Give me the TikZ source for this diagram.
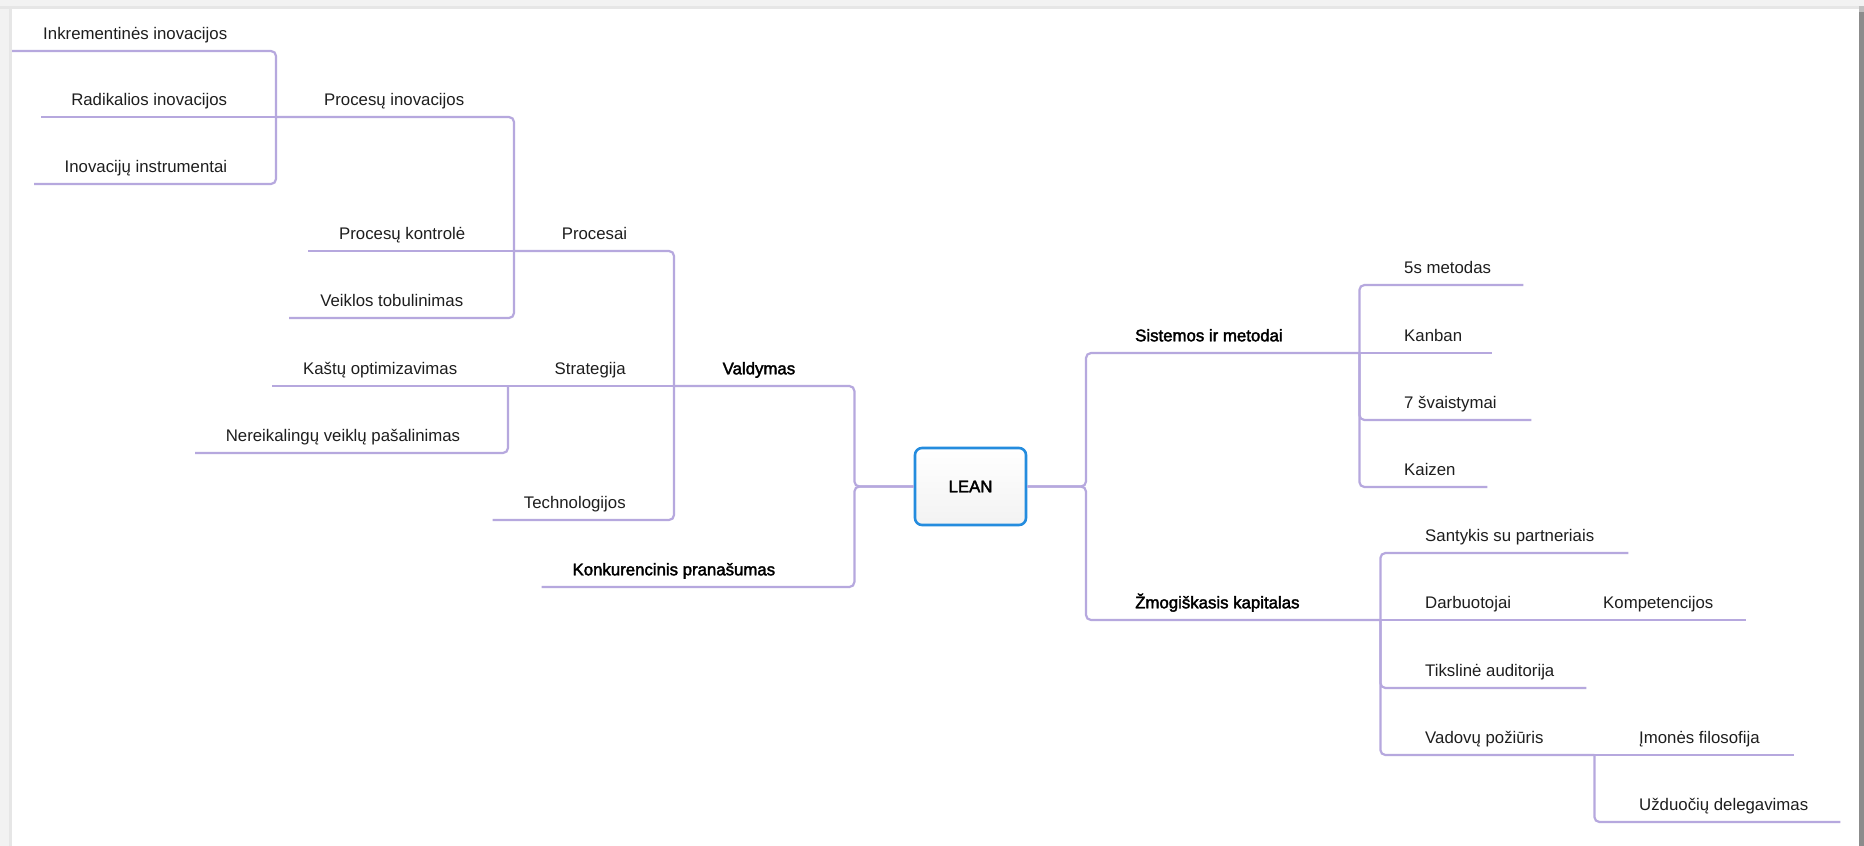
\documentclass[tikz,border=0pt]{standalone}
\usepackage{fontspec}
\setmainfont{Liberation Sans}
\newfontfamily\heavyfont[FakeBold=2.2]{Liberation Sans}
\usetikzlibrary{shadings}

\definecolor{branchcol}{RGB}{182,168,222}
\definecolor{inkcol}{RGB}{30,30,30}
\definecolor{leanblue}{RGB}{36,140,222}
\definecolor{pagegray}{RGB}{242,242,242}
\definecolor{edgegray}{RGB}{230,230,230}

% text inside an underlined segment of given width: gap to the hub side
\newcommand\segleft[3]{\makebox[#1pt][r]{#3\kern#2pt}}
\newcommand\segright[3]{\makebox[#1pt][l]{\kern#2pt#3}}

\tikzset{
  topic/.style={anchor=south west, inner sep=0pt, text height=13pt,
    text depth=11.5pt, text=inkcol, font=\fontsize{16.8pt}{20pt}\selectfont},
  maintopic/.style={topic, text=black, font=\fontsize{16.8pt}{20pt}\heavyfont},
  branch/.style={draw=branchcol, line width=2.2pt, rounded corners=5pt},
  rootbox/.style={draw=leanblue, line width=2.6pt, rounded corners=7pt,
    top color=white, bottom color=black!5, minimum width=111pt,
    minimum height=77pt, inner sep=0pt, text=black,
    font=\fontsize{16.8pt}{20pt}\heavyfont},
}

\begin{document}
\begin{tikzpicture}[x=1pt,y=-1pt]
\useasboundingbox (0,0) rectangle (1864,846);

% page and frame
\fill[pagegray] (0,0) rectangle (1864,846);
\fill[edgegray] (0,6) rectangle (1864,9);
\fill[edgegray] (9,6) rectangle (12,846);
\fill[black!45] (1859,12) rectangle (1864,846);
\fill[black!25] (1859,6) rectangle (1864,12);
\fill[white] (12,9) rectangle (1859,846);

% central topic
\node[rootbox] (lean) at (970.5,486.5) {\raisebox{-2pt}{LEAN}};

% left side
\node[maintopic] (vald) at (674,386) {\segleft{180}{59}{Valdymas}};
\node[maintopic] (konk) at (541.6,587) {\segleft{312.4}{79}{Konkurencinis pranašumas}};

\node[topic] (procesai) at (514,251) {\segleft{160}{47}{Procesai}};
\node[topic] (strat) at (508,386) {\segleft{166}{48.5}{Strategija}};
\node[topic] (techn) at (492.5,520) {\segleft{181.5}{48.5}{Technologijos}};

\node[topic] (procinov) at (276,117) {\segleft{238}{50}{Procesų inovacijos}};
\node[topic] (prockontr) at (308,251) {\segleft{206}{49}{Procesų kontrolė}};
\node[topic] (veikl) at (289,318) {\segleft{225}{51}{Veiklos tobulinimas}};

\node[topic] (inkr) at (12,51) {\segleft{264}{49}{Inkrementinės inovacijos}};
\node[topic] (radik) at (41,117) {\segleft{235}{49}{Radikalios inovacijos}};
\node[topic] (instr) at (34,184) {\segleft{242}{49}{Inovacijų instrumentai}};

\node[topic] (kastu) at (272,386) {\segleft{236}{51}{Kaštų optimizavimas}};
\node[topic] (nereik) at (195,453) {\segleft{313}{48}{Nereikalingų veiklų pašalinimas}};

% right side
\node[maintopic] (sist) at (1086,353) {\segright{273}{49}{Sistemos ir metodai}};
\node[maintopic] (zmog) at (1086,620) {\segright{294}{49}{Žmogiškasis kapitalas}};

\node[topic] (s5) at (1359,285) {\segright{164}{45}{5s metodas}};
\node[topic] (kanban) at (1359,353) {\segright{133}{45}{Kanban}};
\node[topic] (sva) at (1359,420) {\segright{172}{45}{7 švaistymai}};
\node[topic] (kaizen) at (1359,487) {\segright{128}{45}{Kaizen}};

\node[topic] (sant) at (1380,553) {\segright{248}{45}{Santykis su partneriais}};
\node[topic] (darb) at (1380,620) {\segright{176}{45}{Darbuotojai}};
\node[topic] (tiksl) at (1380,688) {\segright{206}{45}{Tikslinė auditorija}};
\node[topic] (vad) at (1380,755) {\segright{214}{45}{Vadovų požiūris}};

\node[topic] (komp) at (1556,620) {\segright{190}{47}{Kompetencijos}};
\node[topic] (imon) at (1594,755) {\segright{199.5}{45}{Įmonės filosofija}};
\node[topic] (uzd) at (1594,822) {\segright{246}{45}{Užduočių delegavimas}};

% connectors, left side
\draw[branch] (lean.west) -- (lean.west -| vald.south east) |- (vald.south west);
\draw[branch] (lean.west) -- (lean.west -| konk.south east) |- (konk.south west);

\draw[branch] (vald.south west) |- (procesai.south west);
\draw[branch] (vald.south west) -- (strat.south west);
\draw[branch] (vald.south west) |- (techn.south west);

\draw[branch] (procesai.south west) |- (procinov.south west);
\draw[branch] (procesai.south west) -- (prockontr.south west);
\draw[branch] (procesai.south west) |- (veikl.south west);

\draw[branch] (procinov.south west) |- (inkr.south west);
\draw[branch] (procinov.south west) -- (radik.south west);
\draw[branch] (procinov.south west) |- (instr.south west);

\draw[branch] (strat.south west) -- (kastu.south west);
\draw[branch] (strat.south west) |- (nereik.south west);

% connectors, right side
\draw[branch] (lean.east) -- (lean.east -| sist.south west) |- (sist.south east);
\draw[branch] (lean.east) -- (lean.east -| zmog.south west) |- (zmog.south east);

\draw[branch] (sist.south east) |- (s5.south east);
\draw[branch] (sist.south east) -- (kanban.south east);
\draw[branch] (sist.south east) |- (sva.south east);
\draw[branch] (sist.south east) |- (kaizen.south east);

\draw[branch] (zmog.south east) |- (sant.south east);
\draw[branch] (zmog.south east) -- (darb.south east);
\draw[branch] (zmog.south east) |- (tiksl.south east);
\draw[branch] (zmog.south east) |- (vad.south east);

\draw[branch] (darb.south east) -- (komp.south east);
\draw[branch] (vad.south east) -- (imon.south east);
\draw[branch] (vad.south east) |- (uzd.south east);
\end{tikzpicture}
\end{document}
